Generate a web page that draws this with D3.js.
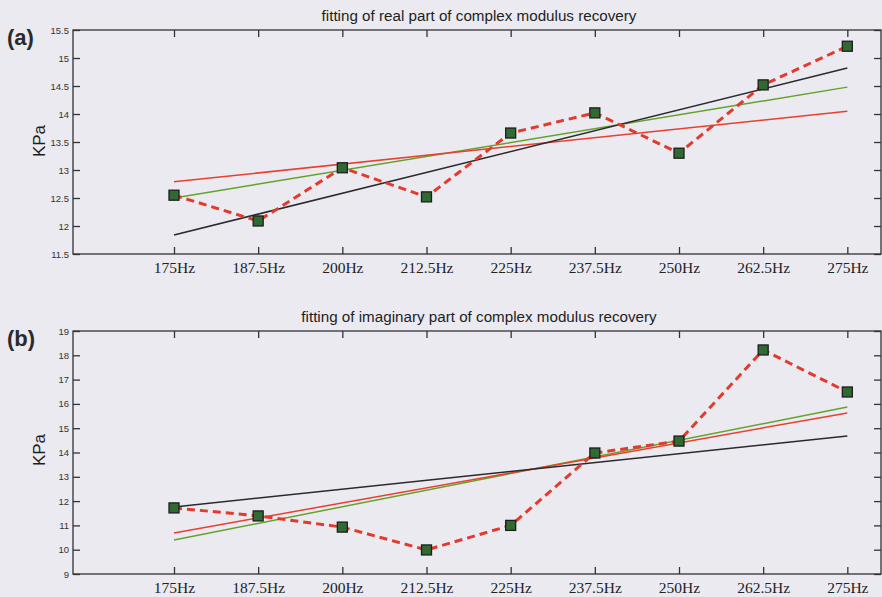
<!DOCTYPE html>
<html>
<head>
<meta charset="utf-8">
<script src="https://cdn.jsdelivr.net/npm/d3@7"></script>
<style>
  body { margin: 0; background: #ebeaf1; }
  svg { display: block; }
</style>
</head>
<body>
<svg id="chart" width="882" height="597"></svg>
<script>
// frequencies (Hz) and tick labels shared by both panels
const freqs = [175, 187.5, 200, 212.5, 225, 237.5, 250, 262.5, 275];
const freqLabels = ["175Hz", "187.5Hz", "200Hz", "212.5Hz", "225Hz", "237.5Hz", "250Hz", "262.5Hz", "275Hz"];

// (a) real part
const realMeasured = [12.55, 12.09, 13.04, 12.52, 13.66, 14.02, 13.30, 14.52, 15.21];
const realFitBlack = [11.84, 14.82];
const realFitGreen = [12.50, 14.48];
const realFitRed = [12.79, 14.05];
const realTicks = [11.5, 12, 12.5, 13, 13.5, 14, 14.5, 15, 15.5];

// (b) imaginary part
const imagMeasured = [11.72, 11.39, 10.93, 9.99, 11.00, 13.98, 14.47, 18.22, 16.49];
const imagFitBlack = [11.76, 14.68];
const imagFitGreen = [10.40, 15.87];
const imagFitRed = [10.69, 15.63];
const imagTicks = [9, 10, 11, 12, 13, 14, 15, 16, 17, 18, 19];

const svg = d3.select("#chart");

function drawPanel(opts) {
    const g = svg.append("g");
    const x = d3.scaleLinear().domain([160, 280]).range([73, 881]);
    const y = d3.scaleLinear().domain(opts.yDomain).range([opts.bottom, opts.top]);

    // frame
    g.append("rect")
        .attr("x", x.range()[0]).attr("y", opts.top)
        .attr("width", x.range()[1] - x.range()[0])
        .attr("height", opts.bottom - opts.top)
        .attr("fill", "none")
        .attr("stroke", "#333")
        .attr("stroke-width", 1.3);

    // axes, ticks pointing inward
    const left = g.append("g").attr("transform", `translate(${x.range()[0]},0)`)
        .call(d3.axisLeft(y).tickValues(opts.yTicks).tickSize(-7).tickSizeOuter(0).tickPadding(4)
            .tickFormat(d3.format("")));
    const right = g.append("g").attr("transform", `translate(${x.range()[1]},0)`)
        .call(d3.axisRight(y).tickValues(opts.yTicks).tickSize(-7).tickSizeOuter(0).tickFormat(""));
    const bottom = g.append("g").attr("transform", `translate(0,${opts.bottom})`)
        .call(d3.axisBottom(x).tickValues(freqs).tickSize(-7).tickSizeOuter(0).tickPadding(8)
            .tickFormat((d, i) => freqLabels[i]));
    const top = g.append("g").attr("transform", `translate(0,${opts.top})`)
        .call(d3.axisTop(x).tickValues(freqs).tickSize(-7).tickSizeOuter(0).tickFormat(""));

    [left, right, bottom, top].forEach(a => {
        a.select(".domain").remove();
        a.selectAll(".tick line").attr("stroke", "#333").attr("stroke-width", 1.3);
    });
    left.selectAll(".tick text")
        .attr("font-family", "Liberation Sans, Arial, sans-serif")
        .attr("font-size", 9.5)
        .attr("fill", "#333");
    bottom.selectAll(".tick text")
        .attr("font-family", "Liberation Serif, Times New Roman, serif")
        .attr("font-size", 15.5)
        .attr("fill", "#222");

    // fitted lines
    const fits = [
        { v: opts.green, color: "#62a32a" },
        { v: opts.red, color: "#e8402f" },
        { v: opts.black, color: "#2a2a2a" }
    ];
    fits.forEach(f => {
        g.append("line")
            .attr("x1", x(freqs[0])).attr("y1", y(f.v[0]))
            .attr("x2", x(freqs[freqs.length - 1])).attr("y2", y(f.v[1]))
            .attr("stroke", f.color)
            .attr("stroke-width", 1.5);
    });

    // measured values, red dashed
    const pts = freqs.map((f, i) => [f, opts.measured[i]]);
    g.append("path")
        .datum(pts)
        .attr("d", d3.line().x(d => x(d[0])).y(d => y(d[1])))
        .attr("fill", "none")
        .attr("stroke", "#e23a2c")
        .attr("stroke-width", 3)
        .attr("stroke-dasharray", "8,5");

    g.selectAll("rect.pt")
        .data(pts)
        .join("rect")
        .attr("class", "pt")
        .attr("x", d => x(d[0]) - 5)
        .attr("y", d => y(d[1]) - 5)
        .attr("width", 10)
        .attr("height", 10)
        .attr("fill", "#2f6a32")
        .attr("stroke", "#1e1e1e")
        .attr("stroke-width", 1.3);

    // title
    g.append("text")
        .attr("x", 479).attr("y", opts.top - 9)
        .attr("text-anchor", "middle")
        .attr("font-family", "Liberation Sans, Arial, sans-serif")
        .attr("font-size", 15.2)
        .attr("fill", "#1e1e1e")
        .text(opts.title);

    // panel letter
    g.append("text")
        .attr("x", 7).attr("y", opts.top + 15)
        .attr("font-family", "Liberation Sans, Arial, sans-serif")
        .attr("font-size", 22)
        .attr("font-weight", "bold")
        .attr("fill", "#2a2a2a")
        .text(opts.letter);

    // y label
    g.append("text")
        .attr("transform", `translate(45,${opts.labelY}) rotate(-90)`)
        .attr("text-anchor", "middle")
        .attr("font-family", "Liberation Sans, Arial, sans-serif")
        .attr("font-size", 17)
        .attr("fill", "#1e1e1e")
        .text("KPa");
}

drawPanel({
    top: 30, bottom: 254, yDomain: [11.5, 15.5], yTicks: realTicks,
    measured: realMeasured, black: realFitBlack, green: realFitGreen, red: realFitRed,
    title: "fitting of real part of complex modulus recovery", letter: "(a)", labelY: 141
});

drawPanel({
    top: 331, bottom: 574, yDomain: [9, 19], yTicks: imagTicks,
    measured: imagMeasured, black: imagFitBlack, green: imagFitGreen, red: imagFitRed,
    title: "fitting of imaginary part of complex modulus recovery", letter: "(b)", labelY: 450
});
</script>
</body>
</html>
